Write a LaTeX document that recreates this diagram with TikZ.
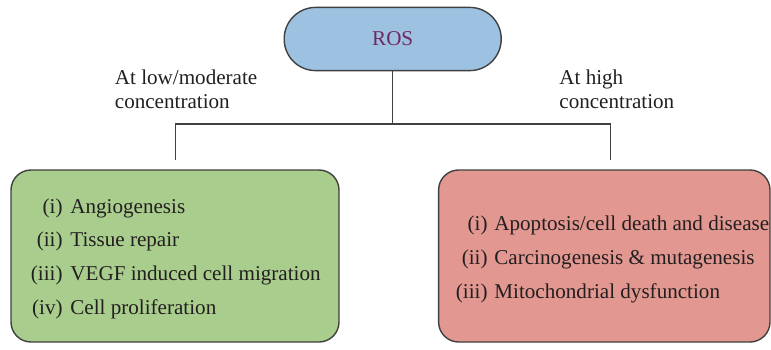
\documentclass[tikz,border=0pt]{standalone}
\usepackage{fontspec}
\setmainfont{Liberation Serif}
\definecolor{rosblue}{RGB}{157,193,225}
\definecolor{lowgreen}{RGB}{169,205,141}
\definecolor{highred}{RGB}{226,152,144}
\definecolor{rostext}{RGB}{112,40,98}
\definecolor{linegray}{RGB}{64,64,64}
\definecolor{textgray}{RGB}{35,31,32}
\def\lwidth{0.7}
\def\rad{10pt}
\def\numx{63}
\def\txtx{70}
\def\hnumx{488}
\def\htxtx{494}

\begin{document}
\begin{tikzpicture}[x=0.5pt,y=-0.5pt,font=\fontsize{10.55}{11.8}\selectfont,
	rosbox/.style={rectangle,draw=linegray,line width=\lwidth pt,rounded corners=15.7pt,fill=rosblue,minimum width=108.5pt,minimum height=31.6pt,text=rostext},
	mybox/.style={rectangle,draw=linegray,line width=\lwidth pt,rounded corners=\rad,minimum height=86pt},
	greenbox/.style={mybox,fill=lowgreen,minimum width=164pt},
	redbox/.style={mybox,fill=highred,minimum width=165.7pt},
	conn/.style={draw=linegray,line width=0.6pt},
	condlabel/.style={inner sep=0pt,anchor=base west,align=left,text=textgray},
	itemnum/.style={inner sep=0pt,anchor=base east,text=textgray},
	itemtext/.style={inner sep=0pt,anchor=base west,text=textgray}]
		\useasboundingbox (0,0) rectangle (771,349);
		\clip (0,0) rectangle (771,349);
		\node[rosbox] (ros) at (392.7,39) {ROS};
		\node[greenbox] (low) at (175,256) {};
		\node[redbox] (high) at (604.3,256) {};
		\coordinate (split) at (392.7,124);
		\coordinate (lowend) at (175.5,160);
		\coordinate (highend) at (610.5,160);
		\draw[conn] (ros.south) -- (split);
		\draw[conn] (lowend) |- (split) -| (highend);
		\node[condlabel] (lowlab) at (114.5,108.5) {At low/moderate\\concentration};
		\node[condlabel] (highlab) at (559,108.5) {At high\\concentration};
		\node[itemnum] (n1) at (\numx,213) {(i)};
		\node[itemtext] (t1) at (\txtx,213) {Angiogenesis};
		\node[itemnum] (n2) at (\numx,246.5) {(ii)};
		\node[itemtext] (t2) at (\txtx,246.5) {Tissue repair};
		\node[itemnum] (n3) at (\numx,280) {(iii)};
		\node[itemtext] (t3) at (\txtx,280) {VEGF induced cell migration};
		\node[itemnum] (n4) at (\numx,314) {(iv)};
		\node[itemtext] (t4) at (\txtx,314) {Cell proliferation};
		\node[itemnum] (h1) at (\hnumx,230.5) {(i)};
		\node[itemtext] (ht1) at (\htxtx,230.5) {Apoptosis/cell death and disease};
		\node[itemnum] (h2) at (\hnumx,264.5) {(ii)};
		\node[itemtext] (ht2) at (\htxtx,264.5) {Carcinogenesis \& mutagenesis};
		\node[itemnum] (h3) at (\hnumx,298) {(iii)};
		\node[itemtext] (ht3) at (\htxtx,298) {Mitochondrial dysfunction};
\end{tikzpicture}
\end{document}
